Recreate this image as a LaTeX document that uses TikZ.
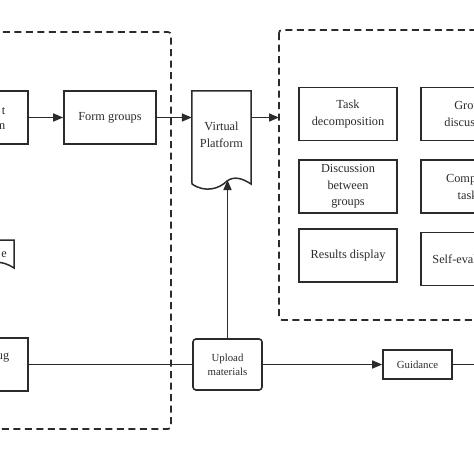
\documentclass[tikz,border=0pt]{standalone}
\usepackage{fontspec}
\setmainfont{Liberation Serif}
\usetikzlibrary{arrows.meta}
\definecolor{ink}{HTML}{2B2B2B}
\tikzset{
	box/.style={draw=ink, line width=1.6pt, minimum width=98pt, minimum height=53pt, align=center, inner sep=2pt, text=ink, font=\fontsize{12.3}{16.6}\selectfont},
	smallbox/.style={box, minimum width=69pt, font=\fontsize{10.8}{14}\selectfont},
	txt/.style={inner sep=0pt, text=ink, font=\fontsize{12.3}{16.6}\selectfont},
	frame/.style={draw=ink, line width=1.7pt, dash pattern=on 7pt off 4.5pt, rounded corners=3pt},
	flow/.style={draw=ink, line width=1.5pt, -{Triangle[length=10pt,width=8pt]}},
	link/.style={draw=ink, line width=1.5pt},
}
\begin{document}
\begin{tikzpicture}[x=1pt, y=-1pt]
			\useasboundingbox (0,0) rectangle (474,474);
			\clip (0,0) rectangle (474,474);
			%%%%% START %%%%%
			\draw[frame] (-100, 32) rectangle (171, 429);
			\draw[frame] (279, 30) rectangle (580, 320);
			
			% left column, cut by the border
			\node[box, minimum width=90pt] (prep) at (-17, 117.5) {};
			\node[txt, anchor=east] (prept) at (5.5, 111) {t};
			\node[txt, anchor=east] (prepb) at (5.5, 127) {n};
			\draw[link] (-60, 240) -- (14, 240) -- (14, 268) .. controls (8, 264) and (2, 262) .. (-6, 262) -- (-60, 262);
			\node[txt, anchor=east] (doct) at (7, 255) {e};
			\node[box, minimum width=90pt] (train) at (-17, 364.5) {};
			\node[txt, anchor=east] (traint) at (9.5, 358) {ug};
			
			\node[box, minimum width=92pt] (form) at (110, 117.5) {Form groups};
			
			% virtual platform (document shape)
			\node[minimum width=59pt, minimum height=93pt, inner sep=0pt] (vp) at (221.5, 137.5) {};
			\draw[link] (vp.north west) -- (vp.north east) -- (251, 184) .. controls (242, 178) and (234, 176) .. (227, 181) .. controls (219, 189) and (205, 193) .. (192, 184) -- cycle;
			\node[txt, align=center] (vpt) at (221.5, 135) {Virtual\\Platform};
			\coordinate (wave) at (227.5, 180);
			\coordinate (inbox) at (279, 117.5);
			
			% activities
			\node[box] (task) at (348, 114) {Task\\decomposition};
			\node[box] (disc) at (348, 186.5) {Discussion\\between\\groups};
			\node[box] (show) at (348, 255.5) {Results display};
			\node[box] (group) at (470, 114) {Group\\discussion};
			\node[box] (done) at (470, 186.5) {Complete\\tasks};
			\node[box] (self) at (470, 259) {Self-evaluation};
			
			% bottom row
			\node[smallbox, minimum height=51pt, rounded corners=3pt] (upload) at (227.5, 364.5) {Upload\\materials};
			\node[smallbox, minimum height=29pt] (guide) at (417.5, 364.5) {Guidance};
			\coordinate (out) at (500, 364.5);
			
			\draw[flow] (prep.east) -- (form.west);
			\draw[flow] (form.east) -- (form.east -| vp.west);
			\draw[flow] (form.east -| vp.east) -- (inbox);
			\draw[flow] (upload.north) -- (wave);
			\draw[link] (train.east) -- (upload.west);
			\draw[flow] (upload.east) -- (guide.west);
			\draw[link] (guide.east) -- (out);
			%%%%% END %%%%%
\end{tikzpicture}
\end{document}
